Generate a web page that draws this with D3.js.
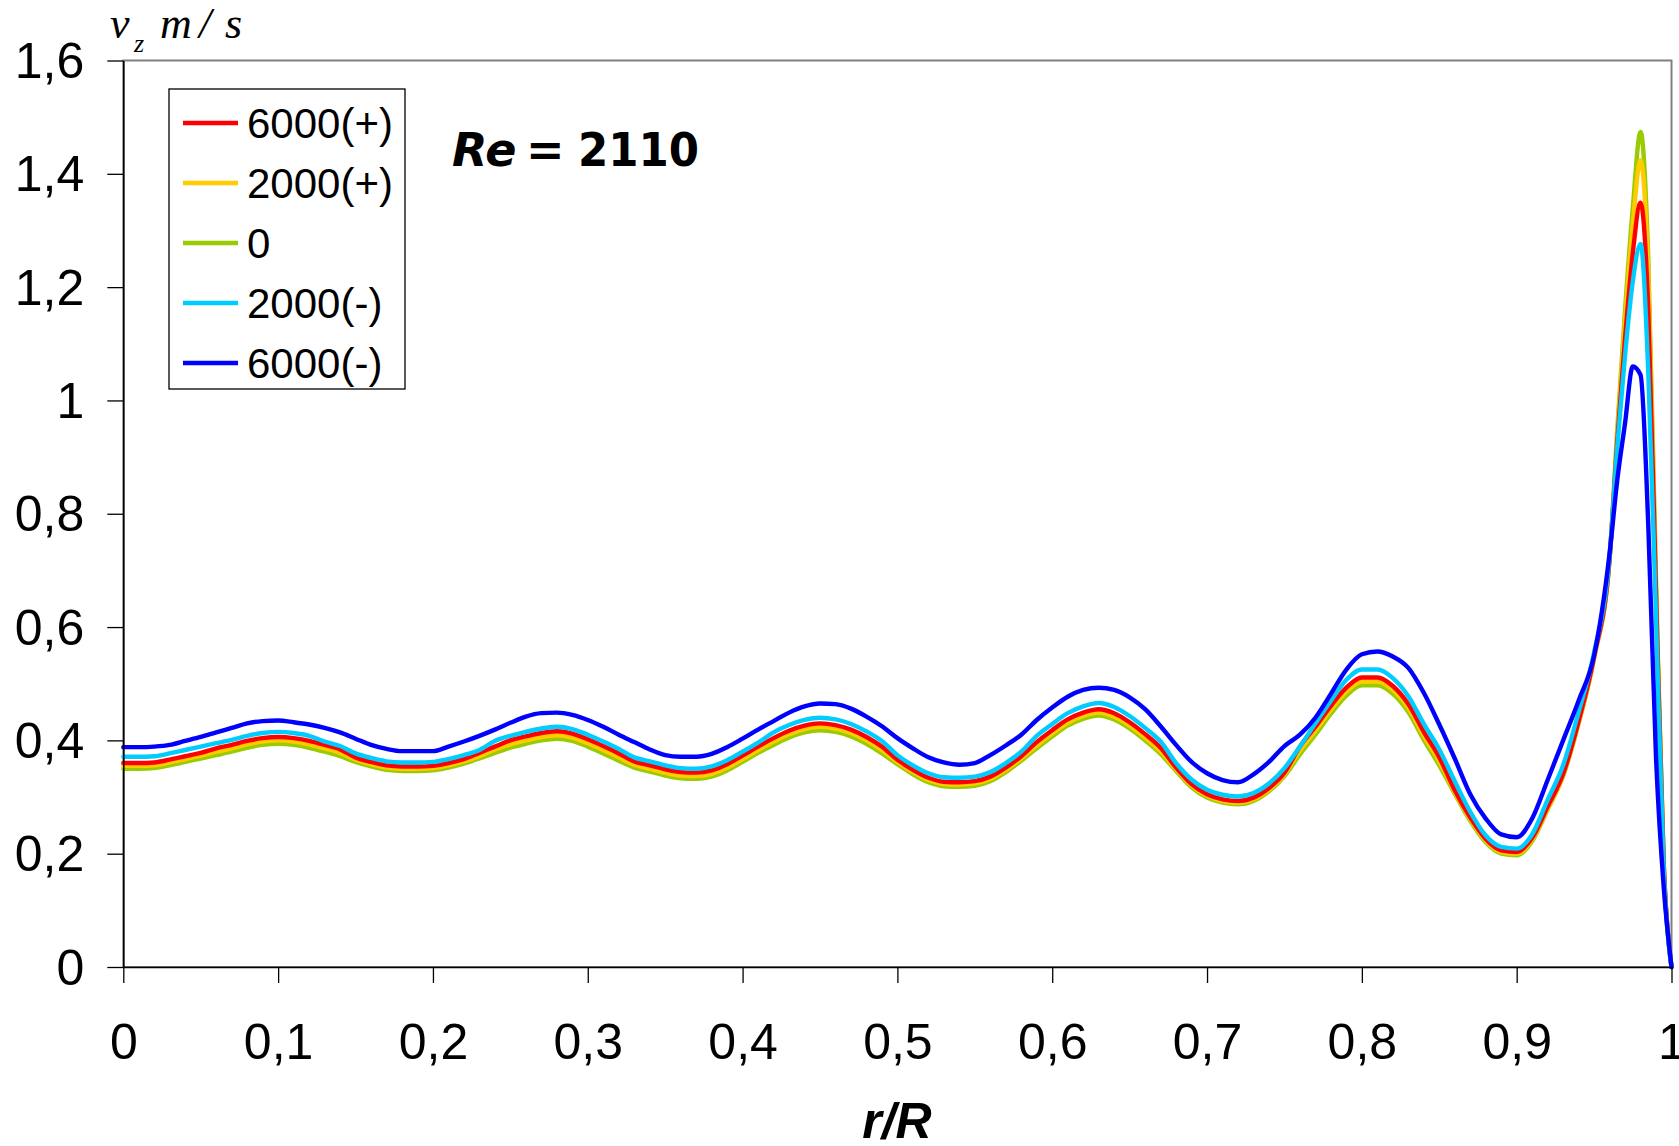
<!DOCTYPE html>
<html><head><meta charset="utf-8">
<script src="https://cdn.jsdelivr.net/npm/d3@7"></script>
<style>body{margin:0;background:#fff} svg{display:block}</style>
</head><body>
<svg id="c" width="1679" height="1146"></svg>
<script>
// r/R sample positions
const rR = [
0.00,0.01,0.02,0.03,0.04,0.05,0.06,0.07,0.08,0.09,
0.10,0.11,0.12,0.13,0.14,0.15,0.16,0.17,0.18,0.19,
0.20,0.21,0.22,0.23,0.24,0.25,0.26,0.27,0.28,0.29,
0.30,0.31,0.32,0.33,0.34,0.35,0.36,0.37,0.38,0.39,
0.40,0.41,0.42,0.43,0.44,0.45,0.46,0.47,0.48,0.49,
0.50,0.51,0.52,0.53,0.54,0.55,0.56,0.57,0.58,0.59,
0.60,0.61,0.62,0.63,0.64,0.65,0.66,0.67,0.68,0.69,
0.70,0.71,0.72,0.73,0.74,0.75,0.76,0.77,0.78,0.79,
0.80,0.81,0.82,0.83,0.84,0.85,0.86,0.87,0.88,0.89,
0.90,0.91,0.92,0.93,0.94,0.95,0.96,
0.965,0.97,0.975,0.98,0.985,0.99,0.995,1.00];

const v6000p = [
.360,.360,.361,.366,.372,.378,.386,.392,.399,.404,
.406,.404,.399,.392,.384,.370,.362,.356,.354,.354,
.355,.360,.367,.378,.389,.400,.407,.413,.416,.412,
.402,.390,.377,.363,.356,.349,.344,.343,.347,.358,
.373,.389,.404,.417,.426,.430,.427,.419,.406,.389,
.366,.348,.334,.327,.326,.328,.336,.352,.372,.397,
.418,.437,.449,.455,.448,.432,.411,.387,.352,.323,
.305,.296,.293,.299,.316,.343,.389,.424,.461,.493,
.511,.511,.496,.464,.415,.370,.312,.264,.226,.206,
.203,.228,.283,.341,.434,.548,.720,
.930,1.11,1.26,1.349,1.16,.66,.18,0];

const v2000p = [
.355,.355,.356,.361,.367,.373,.380,.386,.393,.398,
.400,.398,.393,.386,.378,.366,.358,.352,.350,.350,
.351,.356,.363,.372,.384,.393,.400,.406,.409,.405,
.395,.383,.370,.357,.350,.343,.338,.337,.341,.352,
.367,.383,.398,.411,.420,.424,.421,.413,.400,.383,
.362,.344,.330,.323,.322,.324,.332,.348,.368,.391,
.412,.431,.443,.449,.442,.426,.405,.381,.349,.320,
.302,.293,.290,.296,.313,.340,.382,.417,.454,.486,
.504,.504,.489,.457,.408,.363,.309,.261,.223,.203,
.200,.225,.280,.339,.432,.546,.720,
.940,1.14,1.31,1.424,1.22,.67,.18,0];

const v0 = [
.350,.350,.351,.356,.362,.368,.374,.380,.387,.392,
.394,.392,.387,.380,.372,.362,.354,.348,.346,.346,
.347,.352,.359,.368,.378,.387,.394,.400,.403,.399,
.389,.377,.364,.352,.345,.338,.333,.332,.336,.347,
.362,.378,.392,.405,.414,.418,.415,.407,.394,.377,
.358,.340,.326,.319,.318,.320,.328,.344,.364,.386,
.407,.426,.438,.444,.437,.421,.400,.376,.346,.317,
.299,.290,.287,.293,.310,.337,.375,.410,.447,.479,
.497,.497,.482,.450,.401,.356,.306,.258,.220,.200,
.197,.222,.278,.337,.430,.545,.720,
.950,1.16,1.34,1.474,1.25,.68,.18,0];

const v2000m = [
.371,.371,.372,.377,.383,.389,.395,.401,.408,.413,
.415,.413,.408,.398,.390,.377,.369,.363,.361,.361,
.362,.367,.374,.383,.399,.408,.415,.421,.424,.420,
.410,.398,.385,.370,.363,.356,.351,.350,.354,.365,
.380,.396,.414,.427,.436,.440,.437,.429,.416,.399,
.374,.356,.342,.335,.334,.336,.344,.360,.380,.408,
.429,.448,.460,.466,.459,.443,.422,.398,.360,.331,
.313,.304,.301,.307,.324,.351,.389,.430,.470,.507,
.525,.525,.510,.478,.429,.384,.328,.274,.232,.212,
.209,.234,.295,.356,.450,.555,.725,
.920,1.08,1.21,1.276,1.05,.62,.17,0];

const v6000m = [
.388,.388,.389,.392,.399,.406,.414,.422,.430,.434,
.435,.432,.428,.422,.414,.403,.392,.385,.381,.381,
.381,.389,.398,.408,.419,.431,.442,.448,.449,.445,
.436,.424,.410,.397,.384,.374,.371,.371,.376,.388,
.403,.419,.434,.449,.460,.465,.464,.456,.442,.425,
.404,.386,.370,.361,.357,.360,.374,.391,.410,.436,
.458,.477,.489,.493,.489,.476,.455,.425,.392,.362,
.342,.330,.326,.340,.362,.390,.410,.440,.482,.525,
.552,.557,.548,.528,.484,.428,.368,.305,.262,.234,
.229,.262,.330,.400,.470,.550,.730,
.860,.960,1.060,1.045,.780,.370,.140,0];

const seriesNames  = ["6000(+)","2000(+)","0","2000(-)","6000(-)"];
const seriesValues = [v6000p, v2000p, v0, v2000m, v6000m];
const seriesColors = ["#FF0000","#FFCC00","#99CC00","#00CCFF","#0000FF"];
const drawOrder    = [2, 1, 0, 3, 4];

const xTicks = [0,0.1,0.2,0.3,0.4,0.5,0.6,0.7,0.8,0.9,1];
const xTickLabels = ["0","0,1","0,2","0,3","0,4","0,5","0,6","0,7","0,8","0,9","1"];
const yTicks = [0,0.2,0.4,0.6,0.8,1,1.2,1.4,1.6];
const yTickLabels = ["0","0,2","0,4","0,6","0,8","1","1,2","1,4","1,6"];

const svg = d3.select("#c");
const L = 123.3, R = 1671.5, T = 60.5, B = 967;
const x = d3.scaleLinear().domain([0,1]).range([L,R]);
const y = d3.scaleLinear().domain([0,1.6]).range([B,T]);

// plot area frame (gray)
svg.append("rect").attr("x",L).attr("y",T).attr("width",R-L).attr("height",B-T)
  .attr("fill","none").attr("stroke","#808080").attr("stroke-width",2);

// series
const line = d3.line().x((d,i)=>x(rR[i])).y(d=>y(d)).curve(d3.curveMonotoneX);
drawOrder.forEach(k=>{
  svg.append("path").datum(seriesValues[k])
    .attr("d",line).attr("fill","none")
    .attr("stroke",seriesColors[k]).attr("stroke-width",4.4)
    .attr("stroke-linejoin","round").attr("stroke-linecap","round");
});

// axes
const yAxis = svg.append("g").attr("transform",`translate(${L},0)`)
  .call(d3.axisLeft(y).tickValues(yTicks).tickFormat((d,i)=>yTickLabels[i])
        .tickSize(16).tickSizeOuter(0).tickPadding(23));
const xAxis = svg.append("g").attr("transform",`translate(0,${B})`)
  .call(d3.axisBottom(x).tickValues(xTicks).tickFormat((d,i)=>xTickLabels[i])
        .tickSize(16).tickSizeOuter(0).tickPadding(40));
[yAxis,xAxis].forEach(g=>{
  g.selectAll("text").attr("font-family","'Liberation Sans', Arial, sans-serif")
    .attr("font-size",50).attr("fill","#000");
  g.selectAll("line").attr("stroke","#000").attr("stroke-width",1.3);
  g.select(".domain").attr("stroke","#000").attr("stroke-width",1.6);
});
yAxis.selectAll("text").attr("dy","0.34em");

// legend
const lg = svg.append("g");
lg.append("rect").attr("x",169).attr("y",89).attr("width",236).attr("height",300)
  .attr("fill","#fff").attr("stroke","#000").attr("stroke-width",1.3);
seriesNames.forEach((n,i)=>{
  const yy = 123 + 60*i;
  lg.append("line").attr("x1",183).attr("x2",238).attr("y1",yy).attr("y2",yy)
    .attr("stroke",seriesColors[i]).attr("stroke-width",4.4);
  lg.append("text").attr("x",247).attr("y",yy+15).text(n)
    .attr("font-family","'Liberation Sans', Arial, sans-serif").attr("font-size",42).attr("fill","#000");
});

// Re = 2110
const reF = "'DejaVu Sans', Verdana, sans-serif";
svg.append("text").attr("x",452).attr("y",166).text("Re")
  .attr("font-family",reF).attr("font-size",46).attr("font-weight","bold").attr("font-style","italic");
svg.append("text").attr("x",526).attr("y",166).text("=")
  .attr("font-family",reF).attr("font-size",46).attr("font-weight","bold");
svg.append("text").attr("x",578).attr("y",166).text("2110")
  .attr("font-family",reF).attr("font-size",46).attr("font-weight","bold")
  .attr("textLength",121).attr("lengthAdjust","spacingAndGlyphs");

// x axis title
svg.append("text").attr("x",897).attr("y",1138).attr("text-anchor","middle").text("r/R")
  .attr("font-family","'Liberation Sans', Arial, sans-serif").attr("font-size",50)
  .attr("font-weight","bold").attr("font-style","italic");

// y axis title  v_z m/s
const tF = "'Liberation Serif', 'Times New Roman', serif";
const yt = svg.append("g").attr("font-family",tF).attr("font-style","italic").attr("fill","#000");
yt.append("text").attr("x",110).attr("y",38).attr("font-size",44).text("v");
yt.append("text").attr("x",134).attr("y",52).attr("font-size",26).text("z");
yt.append("text").attr("x",160).attr("y",38).attr("font-size",44).text("m");
yt.append("text").attr("x",199).attr("y",38).attr("font-size",44).text("/");
yt.append("text").attr("x",225).attr("y",38).attr("font-size",44).text("s");
</script>
</body></html>
